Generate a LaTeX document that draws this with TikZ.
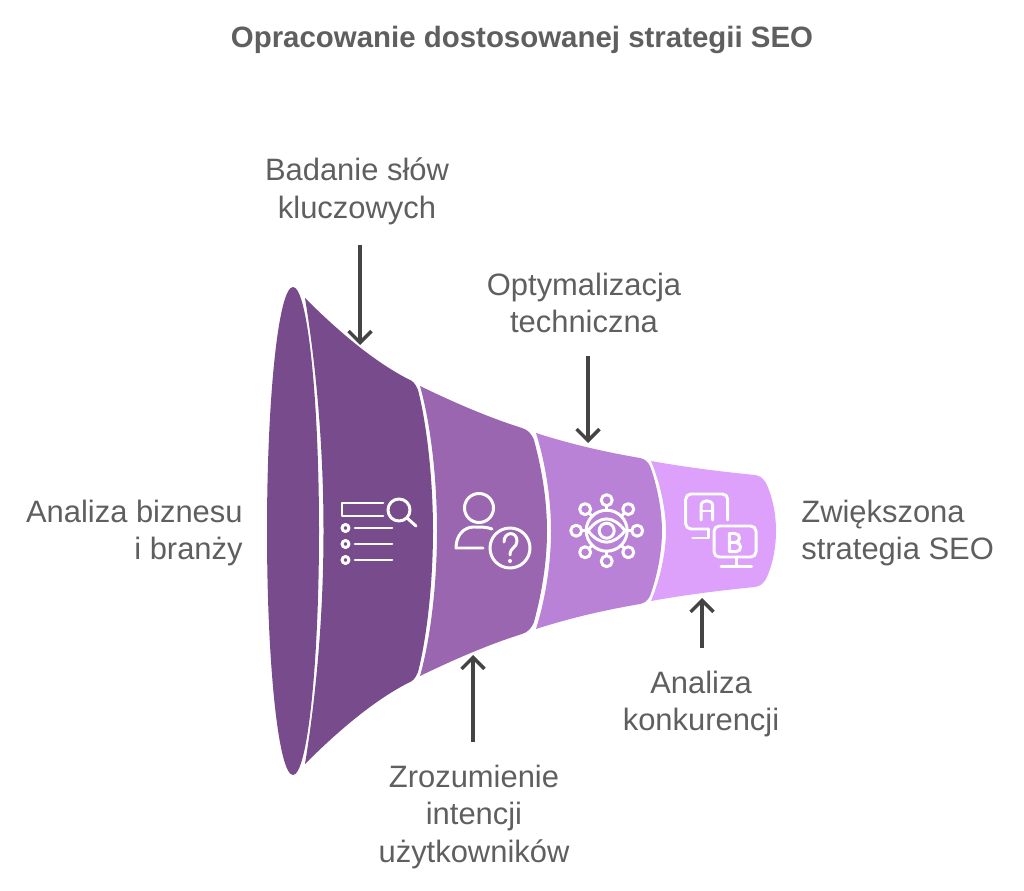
\documentclass[tikz,border=0pt]{standalone}
\usepackage{fontspec}
\setmainfont{Liberation Sans}
\usetikzlibrary{arrows.meta}
\definecolor{seg1}{HTML}{774B8C}
\definecolor{seg2}{HTML}{9B66B0}
\definecolor{seg3}{HTML}{BA82D6}
\definecolor{seg4}{HTML}{DDA0FB}
\definecolor{labelgray}{HTML}{5F5F5F}
\definecolor{arrowgray}{HTML}{444444}
\begin{document}
\begin{tikzpicture}[x=0.02cm,y=-0.02cm,
        label node/.style={text=labelgray,inner sep=0pt,font=\fontsize{17.6}{21.5}\selectfont},
        title node/.style={text=labelgray,inner sep=0pt,font=\fontsize{16.75}{20}\selectfont\bfseries},
        arrow line/.style={draw=arrowgray,line width=2pt,-{Straight Barb[length=6.5pt,width=13pt,line width=2pt]}},
        icon/.style={draw=white,line width=1.7pt,line cap=round,line join=round}]
        \useasboundingbox (0,0) rectangle (1024,891);
        \fill [seg1] (293,531) ellipse [x radius=26,y radius=244];
        \fill [seg1] (305,298) .. controls (340,333) and (375,362) .. (408,379) .. controls (413,381) and (415,383) .. (418,390) .. controls (427,425) and (433,480) .. (433,531) .. controls (433,582) and (427,637) .. (418,672) .. controls (415,679) and (413,681) .. (408,683) .. controls (375,700) and (340,729) .. (305,764) .. controls (317,690) and (323.5,610) .. (323.5,531) .. controls (323.5,452) and (317,372) .. (305,298) -- cycle;
        \fill [seg2] (420,386) .. controls (455,403) and (490,418) .. (522,428) .. controls (528,430) and (531,433) .. (534,440) .. controls (542,470) and (547,500) .. (547,531) .. controls (547,562) and (542,592) .. (534,622) .. controls (531,629) and (528,632) .. (522,634) .. controls (490,644) and (455,659) .. (420,676) .. controls (431,637) and (437,582) .. (437,531) .. controls (437,480) and (431,425) .. (420,386) -- cycle;
        \fill [seg3] (536,433) .. controls (570,444) and (605,452) .. (640,458) .. controls (645,459) and (648,462) .. (650,466) .. controls (657,485) and (662,510) .. (662,531) .. controls (662,552) and (657,577) .. (650,596) .. controls (648,600) and (645,603) .. (640,604) .. controls (605,610) and (570,618) .. (536,629) .. controls (546,597) and (551,562) .. (551,531) .. controls (551,500) and (546,465) .. (536,433) -- cycle;
        \fill [seg4] (651,461) .. controls (690,468) and (725,472) .. (755,475) .. controls (760,476) and (763,478) .. (766,483) .. controls (773,498) and (776,515) .. (776,531) .. controls (776,547) and (773,564) .. (766,579) .. controls (763,584) and (760,586) .. (755,587) .. controls (725,590) and (690,594) .. (651,601) .. controls (660,580) and (666,552) .. (666,531) .. controls (666,510) and (660,482) .. (651,461) -- cycle;

        \draw [icon] (383,503) -- (342,503) -- (342,516) -- (383,516);
        \draw [icon] (399,510) circle [radius=11];
        \draw [icon] (407,518) -- (416,526);
        \foreach \y in {528,544,560} {
            \draw [icon] (345.5,\y) circle [radius=3.5];
            \draw [icon] (355,\y) -- (392,\y);
        }

        \draw [icon] (479,508) circle [radius=14.5];
        \draw [icon] (483,548) -- (456,548) .. controls (456,535) and (464,527) .. (474,527) .. controls (481,527) and (487,527) .. (492,529);
        \draw [icon] (510,548) circle [radius=20];
        \draw [icon] (504,542) .. controls (504,531) and (517,531) .. (517,541) .. controls (517,548) and (510,547) .. (510,555);
        \fill [white] (510,561) circle [radius=2];

        \draw [icon] (606.7,530.7) circle [radius=20.5];
        \draw [icon] (606.7,530.7) circle [radius=7.5];
        \draw [icon] (588,530.7) .. controls (600,515) and (613,515) .. (625,530.7) .. controls (613,546) and (600,546) .. (588,530.7) -- cycle;
        \foreach \a in {0,45,...,315} {
            \draw [icon] (606.7,530.7) ++(\a:30.5) circle [radius=5.5];
            \draw [icon] (606.7,530.7) ++(\a:20.5) -- ++(\a:4.5);
        }

        \draw [icon,rounded corners=3pt] (727.7,520) -- (727.7,494) -- (685.7,494) -- (685.7,529) -- (708,529);
        \draw [icon] (708,529) -- (708,538) -- (692.7,538);
        \draw [icon] (701,520) -- (701,506) .. controls (701,499) and (712.7,499) .. (712.7,506) -- (712.7,520);
        \draw [icon] (701,511) -- (712.7,511);
        \draw [icon,rounded corners=3pt] (714,526) rectangle (756,557);
        \draw [icon] (736,557) -- (736,566.7);
        \draw [icon] (721,566.7) -- (751.7,566.7);
        \draw [icon] (729.3,533.5) -- (729.3,551.7) -- (736,551.7) .. controls (742,551.7) and (742,542.5) .. (736,542.5) -- (729.3,542.5);
        \draw [icon] (729.3,533.5) -- (735,533.5) .. controls (741,533.5) and (741,542.5) .. (735,542.5);

        \node [title node] (title) at (522,39.5) {Opracowanie dostosowanej strategii SEO};
        \node [label node,align=center] (badanie) at (357,191.5) {Badanie słów\\kluczowych};
        \node [label node,align=center] (optym) at (584,303) {Optymalizacja\\techniczna};
        \node [label node,align=right,anchor=east] (analiza) at (243,533) {Analiza biznesu\\i branży};
        \node [label node,align=left,anchor=west] (zwiek) at (801,533) {Zwiększona\\strategia SEO};
        \node [label node,align=center] (konk) at (701,704) {Analiza\\konkurencji};
        \node [label node,align=center] (zroz) at (474,817) {Zrozumienie\\intencji\\użytkowników};

        \coordinate (tip1) at (360,345);
        \coordinate (tip2) at (588,443);
        \coordinate (tip3) at (473,655);
        \coordinate (tip4) at (702,598);
        \draw [arrow line,shorten <=11pt] (badanie.south -| tip1) -- (tip1);
        \draw [arrow line,shorten <=12.5pt] (optym.south -| tip2) -- (tip2);
        \draw [arrow line,shorten <=13pt] (zroz.north -| tip3) -- (tip3);
        \draw [arrow line,shorten <=12.5pt] (konk.north -| tip4) -- (tip4);
    \end{tikzpicture}
\end{document}
